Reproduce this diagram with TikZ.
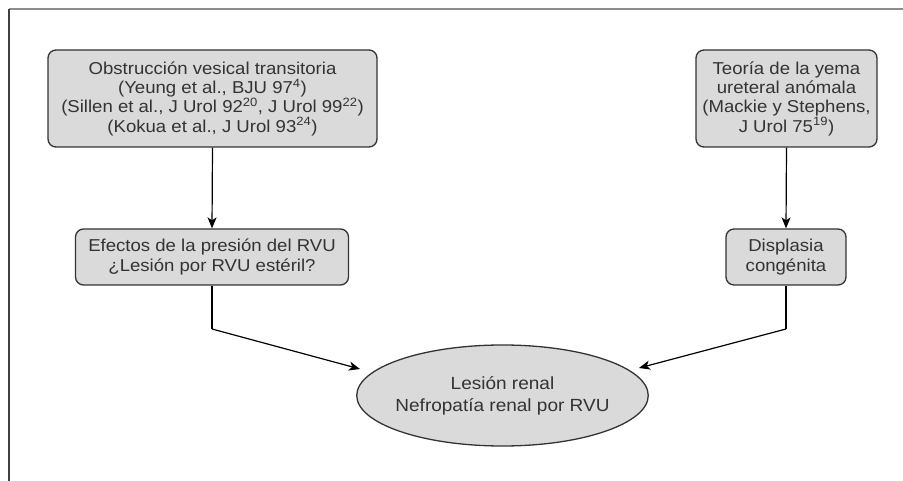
\documentclass[tikz,border=0pt]{standalone}
\usepackage{fontspec}
\setmainfont[FakeStretch=1.08]{Liberation Sans}
\usetikzlibrary{shapes.geometric,arrows.meta}
\definecolor{boxfill}{HTML}{DADADA}
\definecolor{txt}{HTML}{333333}
\definecolor{edge}{HTML}{333333}
\begin{document}
\begin{tikzpicture}[x=1pt,y=-1pt,
  box/.style={draw=edge,line width=1.3pt,fill=boxfill,rounded corners=8pt,
    align=center,text=txt,inner sep=0pt,
    font=\fontsize{17.2}{19.3}\selectfont},
  oval/.style={ellipse,draw=edge,line width=1.3pt,fill=boxfill,align=center,
    text=txt,inner xsep=-4pt,inner ysep=0pt,font=\fontsize{17.6}{22}\selectfont},
  arr/.style={-{Stealth[length=11pt,width=9pt,inset=3pt]},line width=1.2pt,black},
  conn/.style={line width=1.2pt,black}]
\useasboundingbox (0,0) rectangle (903,481);
\fill[white] (0,0) rectangle (903,481);
\coordinate (f0) at (9,9);
\coordinate (f1) at (903,9);
\coordinate (f2) at (9,481);
\draw[line width=1.5pt,color=black!45] (f0) -- (f1);
\draw[line width=2pt,color=black!75] (f0) -- (f2);

\node[box,minimum width=329pt,minimum height=97pt] (b1) at (212.5,98.5)
  {Obstrucción vesical transitoria\\
   (Yeung et al., BJU 97\textsuperscript{4})\\
   (Sillen et al., J Urol 92\textsuperscript{20}, J Urol 99\textsuperscript{22})\\
   (Kokua et al., J Urol 93\textsuperscript{24})};
\node[box,minimum width=181pt,minimum height=97pt] (b2) at (786.5,98.5)
  {Teoría de la yema\\ ureteral anómala\\ (Mackie y Stephens,\\ J Urol 75\textsuperscript{19})};
\node[box,minimum width=273pt,minimum height=56pt] (b3) at (212,257)
  {Efectos de la presión del RVU\\ ¿Lesión por RVU estéril?};
\node[box,minimum width=120pt,minimum height=56pt] (b4) at (786,257)
  {Displasia\\ congénita};
\node[oval,minimum width=289pt,minimum height=101pt] (e) at (502.5,395.5)
  {Lesión renal\\ Nefropatía renal por RVU};

\draw[arr] (b1.south) -- (b3.north);
\draw[arr] (b2.south) -- (b4.north);
\coordinate (c1) at (212,329);
\coordinate (t1) at (360,369);
\coordinate (c2) at (786,329);
\coordinate (t2) at (639,368);
\draw[conn] (b3.south) -- (c1);
\draw[arr] (c1) -- (t1);
\draw[conn] (b4.south) -- (c2);
\draw[arr] (c2) -- (t2);
\end{tikzpicture}
\end{document}
